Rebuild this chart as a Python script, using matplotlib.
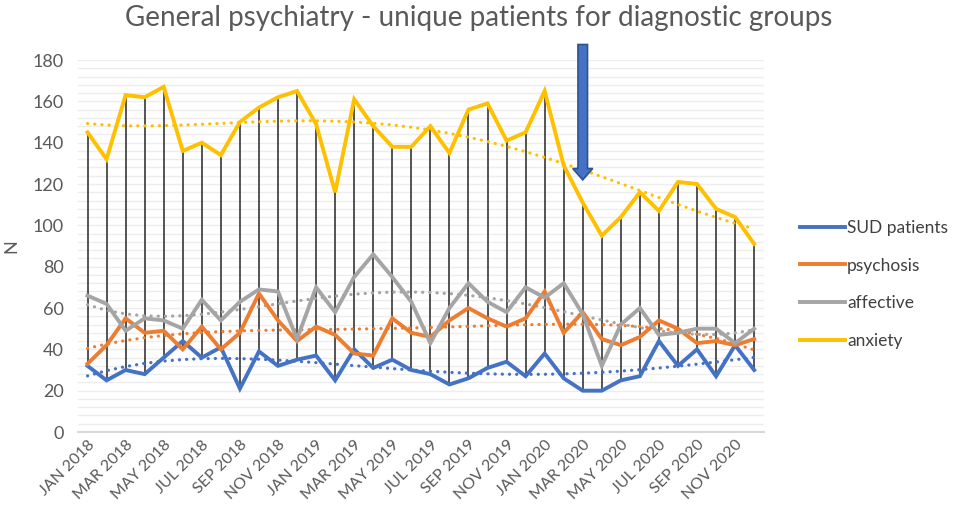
import numpy as np
import matplotlib
matplotlib.use("Agg")
import matplotlib.pyplot as plt
from matplotlib.patches import FancyArrow

plt.rcParams['font.family'] = ['Lato', 'DejaVu Sans']

# months Jan 2018 .. Dec 2020
month_names = ["JAN", "FEB", "MAR", "APR", "MAY", "JUN",
               "JUL", "AUG", "SEP", "OCT", "NOV", "DEC"]
years = [2018, 2019, 2020]
months = [f"{m} {y}" for y in years for m in month_names]

sud = [32, 25, 30, 28, 36, 44, 36, 41, 21, 39, 32, 35,
       37, 25, 40, 31, 35, 30, 28, 23, 26, 31, 34, 27,
       38, 26, 20, 20, 25, 27, 44, 32, 40, 27, 42, 30]
psychosis = [33, 42, 55, 48, 49, 40, 51, 40, 48, 67, 54, 44,
             51, 47, 38, 37, 55, 48, 46, 54, 60, 55, 51, 55,
             68, 48, 58, 45, 42, 46, 54, 50, 43, 44, 42, 45]
affective = [66, 62, 49, 55, 54, 50, 64, 54, 63, 69, 68, 45,
             70, 58, 75, 86, 75, 63, 43, 60, 72, 63, 58, 70,
             65, 72, 57, 32, 52, 60, 47, 48, 50, 50, 43, 50]
anxiety = [145, 132, 163, 162, 167, 136, 140, 134, 150, 157, 162, 165,
           149, 116, 161, 148, 138, 138, 148, 135, 156, 159, 141, 145,
           165, 129, 111, 95, 104, 116, 107, 121, 120, 108, 104, 91]

series = [("SUD patients", sud, "#4472C4"),
          ("psychosis", psychosis, "#ED7D31"),
          ("affective", affective, "#A5A5A5"),
          ("anxiety", anxiety, "#FFC000")]

trend_order = 4
arrow_month = "MAR 2020"
arrow_tip = 122
arrow_top = 187.5

fig = plt.figure(figsize=(9.57, 5.21), dpi=100)
ax = fig.add_axes([0.0815, 0.1708, 0.7165, 0.714])

x = np.arange(len(months))
data = np.array([s[1] for s in series])

# high-low lines
ax.vlines(x, data.min(axis=0), data.max(axis=0), color="#262626", lw=1.1, zorder=2)

for name, vals, col in series:
    ax.plot(x, vals, color=col, lw=2.8, label=name, zorder=4, solid_joinstyle="miter")
    coef = np.polyfit(x + 1, vals, trend_order)
    ax.plot(x, np.polyval(coef, x + 1), color=col, lw=2.3, ls=(0, (0.05, 2.2)),
            dash_capstyle="round", zorder=3)

ax.set_xlim(-0.5, len(months) - 0.5)
ax.set_ylim(0, 180)
ax.set_yticks(np.arange(0, 181, 20))
ax.set_yticks(np.arange(0, 181, 4), minor=True)
ax.grid(True, which="both", axis="y", color="#EDEDED", lw=1.0, zorder=0)
ax.set_xticks(x[::2])
ax.set_xticklabels(months[::2], rotation=45, ha="right", rotation_mode="anchor",
                   fontsize=11.5, color="#595959")
ax.tick_params(axis="y", which="both", length=0, labelsize=13, labelcolor="#595959", pad=10)
ax.tick_params(axis="x", length=0, pad=4)
for s in ["top", "right", "left"]:
    ax.spines[s].set_visible(False)
ax.spines["bottom"].set_color("#D9D9D9")
ax.spines["bottom"].set_linewidth(1.5)
ax.set_axisbelow(True)

ax.set_ylabel("N", fontsize=13, color="#595959", labelpad=10)
fig.text(0.5, 0.965, "General psychiatry - unique patients for diagnostic groups",
         ha="center", va="center", fontsize=20, color="#595959")

ai = months.index(arrow_month)
arr = FancyArrow(ai, arrow_top, 0, arrow_tip - arrow_top, width=0.5, head_width=1.05,
                 head_length=5.5, length_includes_head=True, facecolor="#4472C4",
                 edgecolor="#2F528F", lw=1.2, clip_on=False, zorder=6)
ax.add_patch(arr)

fig.legend(loc="upper left", bbox_to_anchor=(0.836, 0.578), frameon=False,
           fontsize=12.5, handlelength=2.6, handletextpad=0.1, labelspacing=1.25,
           borderpad=0, borderaxespad=0, labelcolor="#404040")

fig.savefig("out.png", dpi=100)
